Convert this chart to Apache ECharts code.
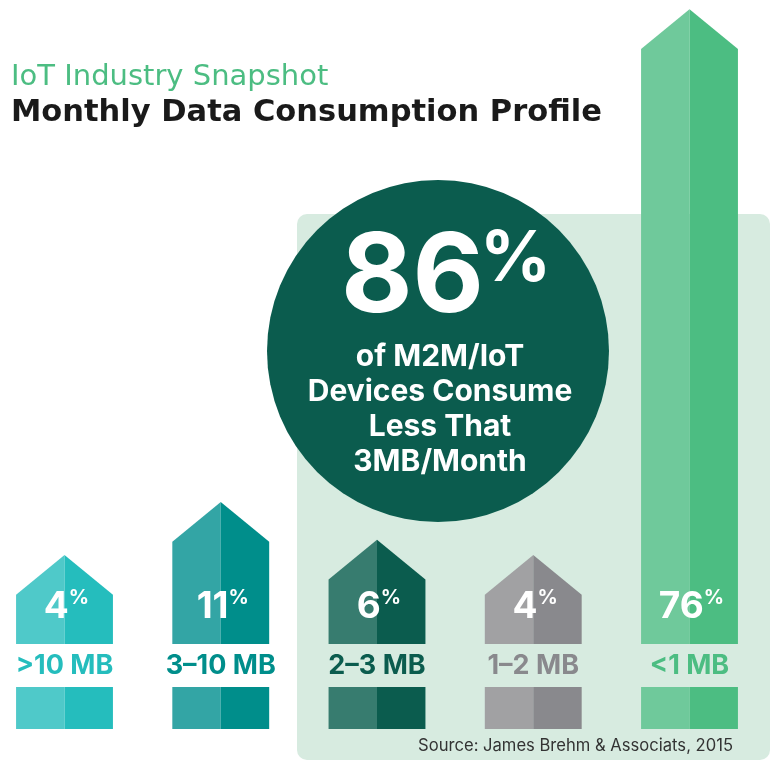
<!DOCTYPE html>
<html>
<head>
<meta charset="utf-8">
<script src="https://cdn.jsdelivr.net/npm/echarts@6/dist/echarts.min.js"></script>
<style>
  html, body { margin: 0; padding: 0; background: #fff; }
  #chart { width: 773px; height: 761px; }
</style>
</head>
<body>
<div id="chart"></div>
<script>
// data
const categories = ['>10 MB', '3–10 MB', '2–3 MB', '1–2 MB', '<1 MB'];
const shares = [4, 11, 6, 4, 76];
const headline = 86;
const headlineLines = ['of M2M/IoT', 'Devices Consume', 'Less That', '3MB/Month'];
const sourceNote = 'Source: James Brehm & Associats, 2015';

// palette, one per bar
const lightColors = ['#4fc9c9', '#33a5a5', '#377c6f', '#a1a1a3', '#6fc99b'];
const darkColors = ['#25bdbd', '#008e8b', '#0b5c4e', '#89898d', '#4cbd82'];

const FONT = 'Inter, "Noto Sans", sans-serif';
const WIDE = '"DejaVu Sans", Inter, sans-serif';

let myChart = echarts.init(document.getElementById('chart'));

// arrow bar: two halves + label + bottom block
function renderArrow(params, api) {
    let i = api.value(0);
    let top = api.coord([i, api.value(1)]);
    let base = api.coord([i, -2.5]);
    let w = api.size([1, 0])[0] * 0.62;
    let head = w * 0.41;
    let x = top[0];
    let l = x - w / 2, r = x + w / 2;
    let y0 = base[1], y1 = top[1];
    return {
        type: 'group',
        children: [
            { type: 'polygon', shape: { points: [[l, y0], [l, y1], [x, y1 - head], [x, y0]] }, style: { fill: lightColors[i] } },
            { type: 'polygon', shape: { points: [[x, y0], [x, y1 - head], [r, y1], [r, y0]] }, style: { fill: darkColors[i] } },
            {
                type: 'text',
                x: x + 2, y: y0 - 56,
                style: {
                    text: '{n|' + shares[i] + '}{p|%}',
                    align: 'center', verticalAlign: 'top',
                    rich: {
                        n: { fontSize: 37, lineHeight: 37, fontWeight: 'bold', fill: '#fff', fontFamily: FONT },
                        p: { fontSize: 20, lineHeight: 20, fontWeight: 'bold', fill: '#fff', fontFamily: FONT, verticalAlign: 'top' }
                    }
                }
            },
            {
                type: 'text',
                x: x, y: y0 + 22,
                style: {
                    text: categories[i], align: 'center', verticalAlign: 'middle',
                    fontSize: 27, fontWeight: 'bold', fontFamily: FONT, fill: darkColors[i]
                }
            },
            { type: 'rect', shape: { x: l, y: y0 + 43, width: w / 2, height: 42 }, style: { fill: lightColors[i] } },
            { type: 'rect', shape: { x: x, y: y0 + 43, width: w / 2, height: 42 }, style: { fill: darkColors[i] } }
        ]
    };
}

let option = {
    backgroundColor: '#fff',
    animation: false,
    grid: { left: 64.5, right: 83.5, top: 49, bottom: 117 },
    xAxis: { type: 'value', min: 0, max: 4, show: false },
    yAxis: { type: 'value', min: -2.5, max: 76, show: false },
    graphic: [
        // light panel behind the three smallest ranges
        { type: 'rect', z: 0, shape: { x: 297, y: 214, width: 473, height: 546, r: 10 }, style: { fill: '#d7ebe0' } },
        { type: 'circle', z: 1, shape: { cx: 438, cy: 351, r: 171 }, style: { fill: '#0b5c4e' } },
        { type: 'text', z: 2, x: 484, y: 279, style: { text: String(headline), align: 'right', verticalAlign: 'middle', fontSize: 110, fontWeight: 'bold', fontFamily: FONT, fill: '#fff' } },
        { type: 'text', z: 2, x: 480, y: 260, style: { text: '%', align: 'left', verticalAlign: 'middle', fontSize: 70, fontWeight: 'bold', fontFamily: FONT, fill: '#fff' } },
        { type: 'text', z: 2, x: 440, y: 339, style: { text: headlineLines.join('\n'), align: 'center', verticalAlign: 'top', fontSize: 30, lineHeight: 35, fontWeight: 'bold', fontFamily: FONT, fill: '#fff' } },
        // titles
        { type: 'text', x: 11, y: 77, style: { text: 'IoT Industry Snapshot', verticalAlign: 'middle', fontSize: 29, fontFamily: WIDE, fill: '#4cbd82' } },
        { type: 'text', x: 11, y: 113, style: { text: 'Monthly Data Consumption Profile', verticalAlign: 'middle', fontSize: 30.5, fontWeight: 'bold', fontFamily: WIDE, fill: '#1a1a1a' } },
        { type: 'text', x: 733, y: 746, style: { text: sourceNote, align: 'right', verticalAlign: 'middle', fontSize: 16.6, fontFamily: FONT, fill: '#333' } }
    ],
    series: [{
        type: 'custom',
        z: 5,
        renderItem: renderArrow,
        data: shares.map((v, i) => [i, v])
    }]
};
myChart.setOption(option);
</script>
</body>
</html>
